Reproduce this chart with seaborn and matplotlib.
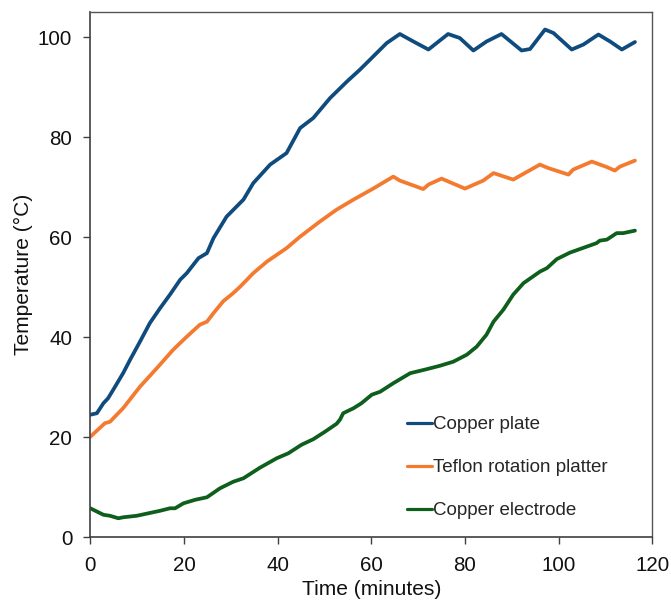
import numpy as np
import pandas as pd
import matplotlib
matplotlib.use("Agg")
import matplotlib.pyplot as plt
import seaborn as sns

# ---- data ----
time_plate = [0, 1.4, 2.8, 3.8, 4.9, 7.0, 8.5, 10.6, 12.7, 14.9, 17.0, 19.2, 20.6, 23.1, 24.9,
              26.3, 29.1, 32.7, 34.8, 38.4, 41.9, 44.8, 47.6, 51.2, 54.8, 57.6, 60.4, 63.3,
              66.1, 69.0, 72.2, 76.4, 78.9, 81.8, 84.6, 87.8, 92.1, 93.9, 97.1, 98.9, 102.8,
              105.3, 108.5, 111.0, 113.5, 116.3]
temp_plate = [24.5, 24.8, 26.8, 27.8, 29.5, 32.8, 35.5, 39.1, 42.8, 45.8, 48.5, 51.5, 52.8, 55.8,
              56.8, 59.8, 64.1, 67.5, 70.8, 74.5, 76.8, 81.8, 83.8, 87.8, 91.1, 93.5, 96.1, 98.8,
              100.6, 99.1, 97.5, 100.6, 99.8, 97.3, 99.1, 100.6, 97.3, 97.6, 101.5, 100.8, 97.5,
              98.5, 100.5, 99.1, 97.5, 99.0]

time_teflon = [0, 3.1, 4.2, 7.0, 10.6, 14.2, 17.7, 20.6, 23.4, 24.9, 26.3, 28.4, 30.5, 32.0,
               34.8, 37.7, 41.9, 44.8, 49.0, 52.6, 56.2, 60.4, 64.7, 66.1, 71.1, 72.2, 75.0,
               80.0, 83.9, 86.1, 90.3, 96.0, 97.8, 102.1, 103.1, 107.1, 110.3, 112.0, 113.1, 116.3]
temp_teflon = [20.1, 22.8, 23.1, 25.8, 30.1, 33.8, 37.5, 40.1, 42.5, 43.1, 44.8, 47.2, 48.8, 50.1,
               52.8, 55.1, 57.8, 60.1, 63.1, 65.5, 67.5, 69.7, 72.1, 71.3, 69.6, 70.5, 71.7,
               69.7, 71.3, 72.8, 71.5, 74.5, 73.8, 72.5, 73.5, 75.1, 74.0, 73.3, 74.1, 75.3]

time_electrode = [0, 2.8, 4.2, 6.0, 7.0, 9.9, 14.9, 17.0, 18.1, 19.9, 22.4, 24.9, 27.7, 30.5,
                  32.7, 36.2, 39.8, 42.3, 45.1, 47.6, 50.1, 52.6, 53.3, 54.0, 56.2, 57.9, 60.1,
                  61.9, 64.7, 68.3, 71.8, 74.7, 77.5, 80.4, 82.5, 84.6, 86.1, 88.2, 90.3, 92.5,
                  96.0, 97.5, 99.6, 102.4, 106.0, 108.1, 108.8, 110.3, 112.4, 113.8, 116.3]
temp_electrode = [5.8, 4.5, 4.3, 3.8, 4.0, 4.3, 5.3, 5.8, 5.8, 6.8, 7.5, 8.0, 9.8, 11.1,
                  11.8, 13.9, 15.8, 16.8, 18.5, 19.6, 21.1, 22.7, 23.5, 24.8, 25.8, 26.8, 28.5,
                  29.1, 30.8, 32.8, 33.6, 34.3, 35.1, 36.5, 38.1, 40.5, 43.1, 45.5, 48.5, 50.8,
                  53.1, 53.8, 55.6, 56.9, 58.1, 58.8, 59.3, 59.5, 60.8, 60.8, 61.3]

series_names = ["Copper plate", "Teflon rotation platter", "Copper electrode"]
series_colors = ["#0F4C7D", "#F47A2F", "#0E5F1C"]

df = pd.concat([
    pd.DataFrame({"Time": time_plate, "Temp": temp_plate, "Series": series_names[0]}),
    pd.DataFrame({"Time": time_teflon, "Temp": temp_teflon, "Series": series_names[1]}),
    pd.DataFrame({"Time": time_electrode, "Temp": temp_electrode, "Series": series_names[2]}),
], ignore_index=True)

sns.set_theme(style="white")
plt.rcParams["font.family"] = ["Liberation Sans", "DejaVu Sans"]

fig = plt.figure(figsize=(6.71, 6.0), dpi=100)
ax = fig.add_axes([0.1346, 0.1045, 0.8375, 0.8755])

sns.lineplot(data=df, x="Time", y="Temp", hue="Series", hue_order=series_names,
             palette=dict(zip(series_names, series_colors)), estimator=None, sort=True,
             linewidth=2.7, ax=ax)

ax.set_xlim(0, 120)
ax.set_ylim(0, 105)
ax.set_xticks([0, 20, 40, 60, 80, 100, 120])
ax.set_yticks([0, 20, 40, 60, 80, 100])
ax.tick_params(axis="both", which="major", labelsize=14.8, direction="out", length=4.7,
               width=1, color="#404040", bottom=True, left=True, top=False, right=False,
               labelcolor="#111111")
ax.tick_params(axis="y", pad=8.3)
ax.tick_params(axis="x", pad=8.5)
ax.set_xlabel("Time (minutes)", fontsize=15.1, color="#111111", labelpad=4)
ax.set_ylabel("Temperature (°C)", fontsize=15.1, color="#111111", labelpad=3.5)

for side in ["left", "bottom"]:
    ax.spines[side].set_color("#404040")
    ax.spines[side].set_linewidth(1.2)
for side in ["top", "right"]:
    ax.spines[side].set_color("#555555")
    ax.spines[side].set_linewidth(1.0)

handles, labels = ax.get_legend_handles_labels()
leg = ax.legend(handles, labels, loc="center left", bbox_to_anchor=(0.563, 0.1325),
                frameon=False, fontsize=13.5, handlelength=1.33, handletextpad=0.08,
                labelspacing=1.37, borderaxespad=0, borderpad=0)
for line in leg.get_lines():
    line.set_linewidth(2.3)

fig.savefig("out.png", dpi=100)
